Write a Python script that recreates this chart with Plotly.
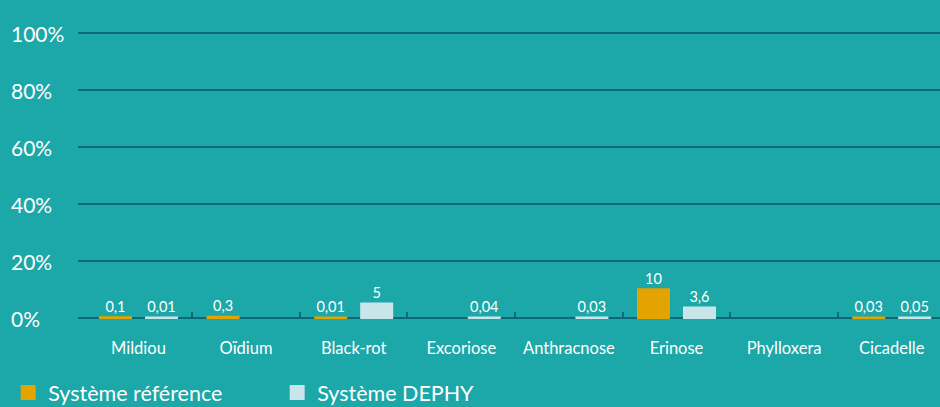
import plotly.graph_objects as go

categories = ["Mildiou", "Oïdium", "Black-rot", "Excoriose", "Anthracnose", "Erinose", "Phylloxera", "Cicadelle"]
ref_values = [0.1, 0.3, 0.01, None, None, 10, None, 0.03]
dephy_values = [0.01, None, 5, 0.04, 0.03, 3.6, None, 0.05]
y_ticks = [0, 20, 40, 60, 80, 100]
y_tick_labels = ["0%", "20%", "40%", "60%", "80%", "100%"]
series_names = ["Système référence", "Système DEPHY"]

BG = "#1ca7a8"
DARK = "#0f6877"
ORANGE = "#e3a300"
LIGHT = "#c8e5e9"
FONT = "Lato"

fig = go.Figure()
for name, vals, col in [(series_names[0], ref_values, ORANGE), (series_names[1], dephy_values, LIGHT)]:
    fig.add_trace(go.Bar(
        x=categories, y=vals, name=name,
        marker=dict(color=col, line=dict(color=col, width=3)),
        texttemplate="%{y}", textposition="outside",
        textfont=dict(color="white", size=14.5, family=FONT),
        cliponaxis=False,
    ))

# empty helper trace so the boundary-tick axis is drawn
fig.add_trace(go.Scatter(x=[], y=[], xaxis="x2", yaxis="y", showlegend=False, hoverinfo="skip"))

xr = [-0.562, 7.449]
fig.update_layout(
    width=940, height=407,
    paper_bgcolor=BG, plot_bgcolor=BG,
    margin=dict(l=78, r=0, t=31, b=88, autoexpand=False),
    separators=", ",
    barmode="group", bargap=0.145, bargroupgap=0.348,
    font=dict(family=FONT, color="white"),
    xaxis=dict(
        type="category", range=xr, showgrid=False, showline=False,
        ticks="", tickfont=dict(size=16.5, color="white", family=FONT),
        ticklabelstandoff=17,
    ),
    xaxis2=dict(
        overlaying="x", anchor="y", type="linear", range=xr,
        tickvals=[i + 0.5 for i in range(len(categories) - 1)],
        ticks="inside", ticklen=7, tickwidth=1.5, tickcolor=DARK,
        showticklabels=False, showgrid=False, showline=False, zeroline=False,
    ),
    yaxis=dict(
        range=[-0.3, 100.7], tickvals=y_ticks, showticklabels=False,
        showgrid=True, gridcolor=DARK, gridwidth=1.5,
        zeroline=True, zerolinecolor=DARK, zerolinewidth=1.5,
        showline=False, layer="below traces",
    ),
    legend=dict(
        orientation="h", x=-0.081, xanchor="left", y=-0.255, yanchor="middle",
        font=dict(size=21.5, color="white", family=FONT),
        entrywidth=224, entrywidthmode="pixels",
        bgcolor="rgba(0,0,0,0)",
    ),
)

for v, lab in zip(y_ticks, y_tick_labels):
    fig.add_annotation(
        x=-0.0795, xref="paper", y=v, yref="y", text=lab, showarrow=False,
        xanchor="left", yanchor="middle",
        font=dict(size=21, color="white", family=FONT),
    )

fig.write_html("out.html", config={"displayModeBar": False},
               post_script="document.body.style.margin='0';document.body.style.overflow='hidden';")
